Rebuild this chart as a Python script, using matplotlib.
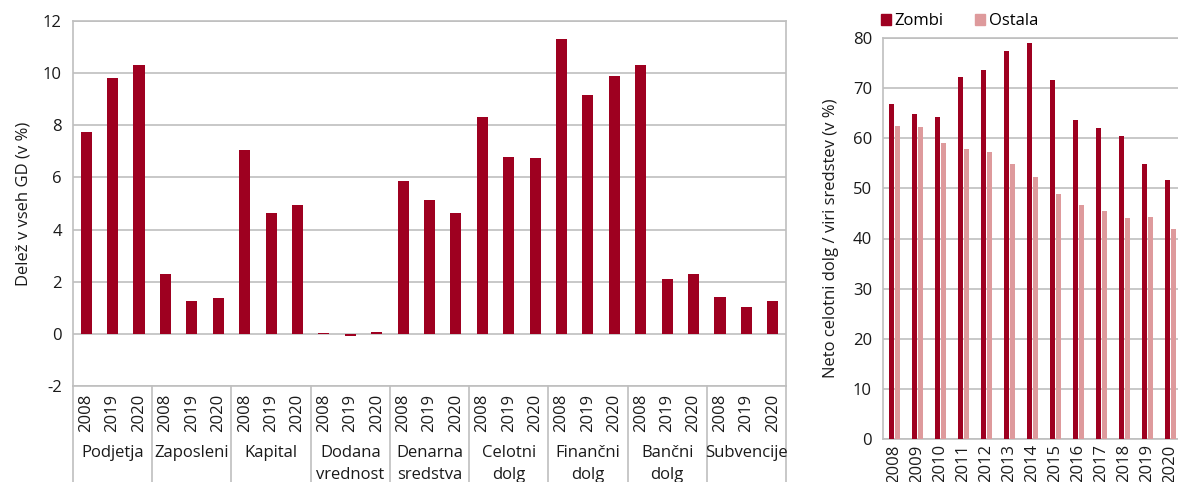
import matplotlib
matplotlib.use("Agg")
import matplotlib.pyplot as plt
from matplotlib.patches import Patch
import numpy as np

plt.rcParams['font.family'] = ['Open Sans', 'DejaVu Sans']
plt.rcParams['axes.unicode_minus'] = False

# Left panel: share of zombie firms in all firms, by indicator and year
groups = ["Podjetja", "Zaposleni", "Kapital", "Dodana\nvrednost", "Denarna\nsredstva",
          "Celotni\ndolg", "Finančni\ndolg", "Bančni\ndolg", "Subvencije"]
years = ["2008", "2019", "2020"]
shares = [
    [7.75, 9.81, 10.31],   # Podjetja
    [2.28, 1.27, 1.39],    # Zaposleni
    [7.06, 4.64, 4.95],    # Kapital
    [0.05, -0.10, 0.06],   # Dodana vrednost
    [5.87, 5.13, 4.65],    # Denarna sredstva
    [8.30, 6.78, 6.74],    # Celotni dolg
    [11.30, 9.18, 9.88],   # Finančni dolg
    [10.32, 2.10, 2.30],   # Bančni dolg
    [1.42, 1.02, 1.25],    # Subvencije
]

# Right panel: net total debt / total liabilities
years_r = ["2008", "2009", "2010", "2011", "2012", "2013", "2014",
           "2015", "2016", "2017", "2018", "2019", "2020"]
zombi = [66.9, 64.9, 64.2, 72.3, 73.7, 77.4, 79.0, 71.7, 63.7, 62.0, 60.5, 54.9, 51.6]
ostala = [62.5, 62.2, 59.0, 57.8, 57.2, 54.9, 52.2, 48.8, 46.6, 45.5, 44.1, 44.3, 41.8]

DARK = "#9E0020"
LIGHT = "#DE9A9C"
GRID = "#BFBFBF"
TXT = "#1a1a1a"
FS = 12

W, H = 1178, 482
fig = plt.figure(figsize=(W / 100, H / 100), dpi=100)


def px_axes(x0, y0, x1, y1):
    return fig.add_axes([x0 / W, (H - y1) / H, (x1 - x0) / W, (y1 - y0) / H])


# ---------- left panel ----------
ax1 = px_axes(73, 21, 786, 386)
vals = np.array(shares).ravel()
xpos = np.arange(len(vals))
ax1.bar(xpos, vals, width=0.42, color=DARK, zorder=3)
ax1.set_xlim(-0.5, len(vals) - 0.5)
ax1.set_ylim(-2, 12)
ax1.set_yticks(np.arange(-2, 13, 2))
ax1.yaxis.grid(True, color=GRID, linewidth=1.2, zorder=0)
ax1.set_xticks([])
ax1.tick_params(axis='y', length=0, labelsize=FS, colors=TXT, pad=8)
for s in ax1.spines.values():
    s.set_color(GRID)
    s.set_linewidth(1.2)
ax1.set_ylabel("Delež v vseh GD (v %)", fontsize=FS, color=TXT, labelpad=8)

ylow = (386 - H) / (386 - 21)
trans = ax1.get_xaxis_transform()
for g in range(len(groups) + 1):
    xb = g * 3 - 0.5
    ax1.plot([xb, xb], [0, ylow], color=GRID, lw=1.2, transform=trans, clip_on=False)
for i, x in enumerate(xpos):
    ax1.text(x, -0.074, years[i % 3], rotation=90, ha='center', va='center',
             fontsize=FS, color=TXT, transform=trans)
for g, name in enumerate(groups):
    ax1.text(g * 3 + 1, -0.163, name, ha='center', va='top', fontsize=FS,
             color=TXT, transform=trans, linespacing=1.45)

# ---------- right panel ----------
ax2 = px_axes(883, 38.3, 1182, 438.7)
xr = np.arange(len(years_r))
bw = 0.22
ax2.bar(xr - bw / 2 - 0.02, zombi, width=bw, color=DARK, zorder=3, label="Zombi")
ax2.bar(xr + bw / 2 + 0.02, ostala, width=bw, color=LIGHT, zorder=3, label="Ostala")
ax2.set_xlim(-0.5, len(years_r) - 0.5)
ax2.set_ylim(0, 80)
ax2.set_yticks(np.arange(0, 81, 10))
ax2.yaxis.grid(True, color=GRID, linewidth=1.2, zorder=0)
ax2.set_xticks(xr)
ax2.set_xticklabels(years_r, rotation=90)
ax2.tick_params(axis='x', length=0, labelsize=FS, colors=TXT, pad=4)
ax2.tick_params(axis='y', length=0, labelsize=FS, colors=TXT, pad=8)
for s in ax2.spines.values():
    s.set_color(GRID)
    s.set_linewidth(1.2)
ax2.spines['right'].set_visible(False)
ax2.set_ylabel("Neto celotni dolg / viri sredstev (v %)", fontsize=FS, color=TXT, labelpad=10)

handles = [Patch(color=DARK, label="Zombi"), Patch(color=LIGHT, label="Ostala")]
fig.legend(handles=handles, loc='upper left', bbox_to_anchor=(878 / W, 1 - 10 / H),
           ncol=2, frameon=False, fontsize=FS, handlelength=0.6, handleheight=0.6,
           handletextpad=0.2, columnspacing=1.9, borderaxespad=0, borderpad=0.2)

fig.savefig("out.png", dpi=100, facecolor="white")
